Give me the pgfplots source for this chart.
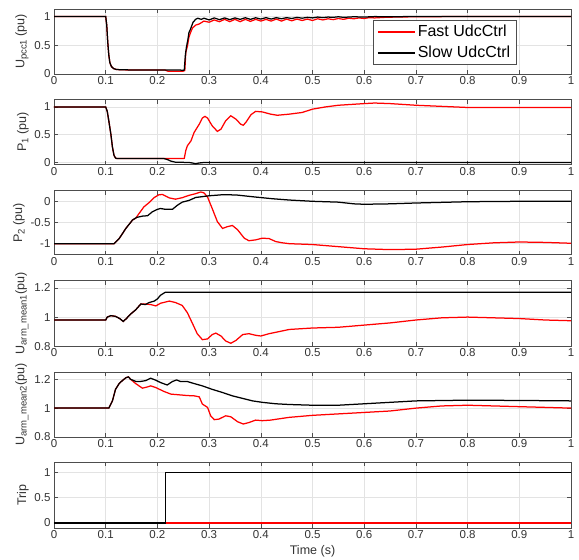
\documentclass[border=0pt]{standalone}
\usepackage{pgfplots}
\pgfplotsset{compat=1.18}
\usepackage{fontspec}
\setmainfont{Liberation Sans}
\definecolor{gridgray}{HTML}{E3E3E3}
\definecolor{axisgray}{HTML}{4D4D4D}
\definecolor{tickgray}{HTML}{333333}
\definecolor{plotred}{HTML}{FF0000}
\newcommand{\sub}[1]{\raisebox{-0.35ex}{\fontsize{9.5}{10}\selectfont #1}}
\pgfplotsset{
  panel/.style={
    scale only axis, width=517pt, height=65pt,
    xmin=0, xmax=1,
    xtick={0,0.1,0.2,0.3,0.4,0.5,0.6,0.7,0.8,0.9,1},
    xticklabels={0,0.1,0.2,0.3,0.4,0.5,0.6,0.7,0.8,0.9,1},
    grid=major,
    major grid style={draw=gridgray, line width=0.6pt},
    axis line style={draw=axisgray, line width=0.7pt},
    tick style={draw=axisgray, line width=0.6pt},
    tick align=inside, major tick length=4pt,
    ticklabel style={font=\fontsize{11.5}{12}\selectfont, text=tickgray},
    label style={font=\fontsize{12.5}{14}\selectfont, text=tickgray},
    xticklabel style={yshift=1pt},
    ylabel style={yshift=-1pt},
    /pgf/number format/assume math mode=true,
    anchor=north west,
    every axis plot/.append style={line width=1.25pt, no marks},
  }
}
\begin{document}
\begin{tikzpicture}[x=1pt,y=1pt]
\path[use as bounding box] (0,0) rectangle (579,-560);

% Panel 1
\begin{axis}[panel, at={(54pt,-9pt)}, ymin=0, ymax=1.13,
  ytick={0,0.5,1}, yticklabels={0,0.5,1},
  ylabel={U\sub{pcc1} (pu)},
  legend style={at={(0.617,0.83)}, anchor=north west, draw=axisgray, fill=white,
    font=\fontsize{16}{18}\selectfont, legend cell align=left, inner xsep=4pt, inner ysep=3pt, row sep=4pt},
  legend image code/.code={\draw[#1] (0pt,0pt) -- (37pt,0pt);}]
\addlegendimage{draw=plotred, line width=1.6pt}
\addlegendentry{Fast UdcCtrl}
\addlegendimage{draw=black, line width=1.6pt}
\addlegendentry{Slow UdcCtrl}
\addplot[plotred, forget plot] coordinates {(0,1)(0.1,1)(0.102,0.85)(0.104,0.55)(0.106,0.33)(0.108,0.2)(0.111,0.13)(0.115,0.095)(0.12,0.08)(0.13,0.072)(0.2,0.07)(0.215,0.068)(0.22,0.05)(0.25,0.05)(0.253,0.06)(0.255,0.38)(0.258,0.48)(0.261,0.64)(0.265,0.74)(0.268,0.8)(0.274,0.85)(0.281,0.87)(0.29,0.92)
(0.30,0.90)(0.31,0.94)(0.32,0.91)(0.33,0.95)(0.34,0.91)(0.35,0.95)(0.36,0.91)(0.37,0.95)(0.38,0.915)(0.39,0.95)(0.40,0.92)(0.41,0.95)(0.42,0.92)(0.43,0.955)(0.44,0.92)(0.45,0.955)(0.46,0.925)(0.47,0.955)(0.48,0.93)(0.49,0.955)(0.50,0.93)(0.51,0.96)(0.52,0.94)(0.53,0.96)(0.54,0.945)(0.55,0.965)(0.56,0.95)(0.57,0.97)(0.58,0.96)(0.59,0.975)(0.60,0.965)(0.61,0.98)(0.62,0.975)(0.64,0.985)(0.66,0.99)(0.7,0.995)(0.8,1.0)(1,1.0)};
\addplot[black, forget plot] coordinates {(0,1)(0.1,1)(0.102,0.85)(0.104,0.55)(0.106,0.33)(0.108,0.2)(0.111,0.13)(0.115,0.095)(0.12,0.08)(0.13,0.072)(0.24,0.07)(0.25,0.065)(0.252,0.07)(0.254,0.32)(0.256,0.46)(0.259,0.6)(0.261,0.72)(0.264,0.78)(0.269,0.9)(0.274,0.95)(0.278,0.97)(0.285,0.95)
(0.29,0.97)(0.30,0.94)(0.31,0.975)(0.32,0.945)(0.33,0.975)(0.34,0.945)(0.35,0.975)(0.36,0.95)(0.37,0.978)(0.38,0.95)(0.39,0.978)(0.40,0.955)(0.41,0.98)(0.42,0.955)(0.43,0.98)(0.44,0.96)(0.45,0.98)(0.46,0.965)(0.47,0.985)(0.48,0.97)(0.49,0.985)(0.50,0.975)(0.51,0.99)(0.52,0.98)(0.53,0.99)(0.54,0.985)(0.55,0.995)(0.56,0.985)(0.58,0.995)(0.6,0.99)(0.62,0.998)(0.65,0.995)(0.7,1.0)(1,1.0)};
\end{axis}

% Panel 2
\begin{axis}[panel, at={(54pt,-99.7pt)}, ymin=-0.04, ymax=1.13,
  ytick={0,0.5,1}, yticklabels={0,0.5,1},
  ylabel={P\sub{1} (pu)}]
\addplot[plotred] coordinates {(0,1)(0.1,1)(0.103,0.92)(0.106,0.75)(0.11,0.51)(0.113,0.28)(0.116,0.13)(0.119,0.08)(0.122,0.07)(0.25,0.07)(0.252,0.075)(0.255,0.22)(0.258,0.3)(0.265,0.39)(0.271,0.54)(0.277,0.63)(0.281,0.69)(0.287,0.8)(0.292,0.83)(0.297,0.8)(0.306,0.66)(0.316,0.56)(0.323,0.6)(0.332,0.75)(0.342,0.84)(0.352,0.78)(0.361,0.69)(0.366,0.67)(0.371,0.72)(0.381,0.86)(0.39,0.92)(0.403,0.91)(0.419,0.87)(0.432,0.85)(0.455,0.87)(0.48,0.9)(0.5,0.96)(0.525,1.0)(0.55,1.03)(0.6,1.06)(0.62,1.07)(0.65,1.06)(0.7,1.03)(0.75,1.01)(0.8,0.99)(0.9,0.99)(1,0.99)};
\addplot[black] coordinates {(0,1)(0.1,1)(0.103,0.92)(0.106,0.75)(0.11,0.51)(0.113,0.28)(0.116,0.13)(0.119,0.08)(0.122,0.07)(0.213,0.07)(0.22,0.05)(0.226,0.025)(0.235,0.005)(0.261,0.0)(0.268,-0.01)(0.274,-0.025)(0.28,-0.01)(0.29,0)(1,0)};
\end{axis}

% Panel 3
\begin{axis}[panel, at={(54pt,-190.7pt)}, height=64pt, ymin=-1.26, ymax=0.25,
  ytick={-1,-0.5,0}, yticklabels={-1,-0.5,0},
  ylabel={P\sub{2} (pu)}]
\addplot[plotred] coordinates {(0,-1)(0.116,-1)(0.126,-0.88)(0.139,-0.64)(0.152,-0.44)(0.158,-0.4)(0.165,-0.28)(0.174,-0.13)(0.184,-0.03)(0.194,0.09)(0.203,0.155)(0.21,0.16)(0.223,0.08)(0.235,0.05)(0.248,0.085)(0.261,0.14)(0.274,0.18)(0.284,0.22)(0.29,0.2)(0.297,0.1)(0.306,-0.17)(0.316,-0.48)(0.326,-0.64)(0.335,-0.6)(0.345,-0.57)(0.355,-0.67)(0.368,-0.87)(0.377,-0.93)(0.39,-0.91)(0.403,-0.87)(0.416,-0.88)(0.429,-0.95)(0.442,-0.98)(0.455,-1.0)(0.5,-1.02)(0.55,-1.07)(0.6,-1.12)(0.65,-1.14)(0.7,-1.13)(0.75,-1.08)(0.8,-1.02)(0.85,-0.98)(0.9,-0.96)(0.95,-0.97)(1,-0.99)};
\addplot[black] coordinates {(0,-1)(0.116,-1)(0.126,-0.88)(0.139,-0.64)(0.152,-0.44)(0.16,-0.38)(0.171,-0.35)(0.181,-0.34)(0.19,-0.25)(0.2,-0.19)(0.206,-0.17)(0.216,-0.19)(0.229,-0.19)(0.239,-0.09)(0.248,-0.02)(0.261,0.02)(0.274,0.09)(0.287,0.11)(0.3,0.13)(0.326,0.155)(0.352,0.15)(0.39,0.1)(0.423,0.06)(0.455,0.03)(0.5,0.0)(0.55,-0.02)(0.58,-0.06)(0.6,-0.07)(0.65,-0.06)(0.7,-0.04)(0.8,-0.01)(0.9,0)(1,0)};
\end{axis}

% Panel 4
\begin{axis}[panel, at={(54pt,-280.7pt)}, height=65.5pt, ymin=0.8, ymax=1.25,
  ytick={0.8,1,1.2}, yticklabels={0.8,1,1.2},
  ylabel={U\sub{arm\_mean1}(pu)}]
\addplot[plotred] coordinates {(0,0.98)(0.1,0.98)(0.103,1.0)(0.11,1.01)(0.119,1.005)(0.127,0.99)(0.134,0.97)(0.14,0.99)(0.148,1.02)(0.158,1.05)(0.168,1.09)(0.177,1.09)(0.187,1.086)(0.197,1.077)(0.206,1.095)(0.223,1.11)(0.235,1.1)(0.248,1.08)(0.258,1.03)(0.268,0.955)(0.277,0.886)(0.287,0.845)(0.297,0.85)(0.306,0.88)(0.313,0.89)(0.323,0.87)(0.332,0.836)(0.342,0.82)(0.352,0.84)(0.365,0.88)(0.377,0.886)(0.39,0.875)(0.4,0.87)(0.416,0.886)(0.435,0.9)(0.455,0.915)(0.5,0.925)(0.55,0.93)(0.6,0.945)(0.65,0.96)(0.7,0.98)(0.75,0.995)(0.8,1.0)(0.85,0.995)(0.9,0.99)(0.95,0.98)(1,0.975)};
\addplot[black] coordinates {(0,0.98)(0.1,0.98)(0.103,1.0)(0.11,1.01)(0.119,1.005)(0.127,0.99)(0.134,0.97)(0.14,0.99)(0.148,1.02)(0.158,1.05)(0.168,1.09)(0.177,1.086)(0.184,1.1)(0.194,1.11)(0.2,1.125)(0.206,1.15)(0.215,1.17)(1,1.17)};
\end{axis}

% Panel 5
\begin{axis}[panel, at={(54pt,-372pt)}, ymin=0.8, ymax=1.25,
  ytick={0.8,1,1.2}, yticklabels={0.8,1,1.2},
  ylabel={U\sub{arm\_mean2}(pu)}]
\addplot[plotred] coordinates {(0,1)(0.106,1)(0.113,1.05)(0.119,1.13)(0.126,1.17)(0.132,1.19)(0.139,1.21)(0.144,1.216)(0.148,1.2)(0.158,1.17)(0.171,1.138)(0.181,1.147)(0.187,1.154)(0.197,1.142)(0.213,1.115)(0.226,1.097)(0.242,1.092)(0.258,1.087)(0.271,1.085)(0.281,1.078)(0.287,1.028)(0.297,1.005)(0.303,0.947)(0.31,0.92)(0.319,0.924)(0.332,0.947)(0.342,0.94)(0.355,0.906)(0.366,0.89)(0.377,0.9)(0.39,0.917)(0.403,0.913)(0.419,0.917)(0.432,0.924)(0.455,0.936)(0.5,0.95)(0.55,0.96)(0.6,0.97)(0.65,0.98)(0.7,1.0)(0.75,1.015)(0.8,1.02)(0.85,1.015)(0.9,1.01)(0.95,1.005)(1,1.0)};
\addplot[black] coordinates {(0,1)(0.106,1)(0.113,1.05)(0.119,1.13)(0.126,1.17)(0.132,1.19)(0.139,1.21)(0.144,1.216)(0.148,1.2)(0.158,1.185)(0.168,1.185)(0.177,1.19)(0.187,1.207)(0.197,1.193)(0.206,1.177)(0.219,1.16)(0.229,1.184)(0.237,1.195)(0.245,1.184)(0.258,1.184)(0.271,1.17)(0.287,1.154)(0.306,1.13)(0.326,1.108)(0.345,1.085)(0.365,1.067)(0.384,1.05)(0.403,1.04)(0.429,1.03)(0.455,1.025)(0.5,1.02)(0.55,1.02)(0.6,1.03)(0.65,1.04)(0.7,1.05)(0.8,1.055)(0.9,1.053)(1,1.05)};
\end{axis}

% Panel 6
\begin{axis}[panel, at={(54pt,-462pt)}, height=66pt, ymin=-0.1, ymax=1.2,
  ytick={0,0.5,1}, yticklabels={0,0.5,1},
  ylabel={Trip}, xlabel={Time (s)}]
\addplot[plotred] coordinates {(0,0)(1,0)};
\addplot[black] coordinates {(0,0)(0.215,0)(0.215,1)(1,1)};
\end{axis}
\end{tikzpicture}
\end{document}
